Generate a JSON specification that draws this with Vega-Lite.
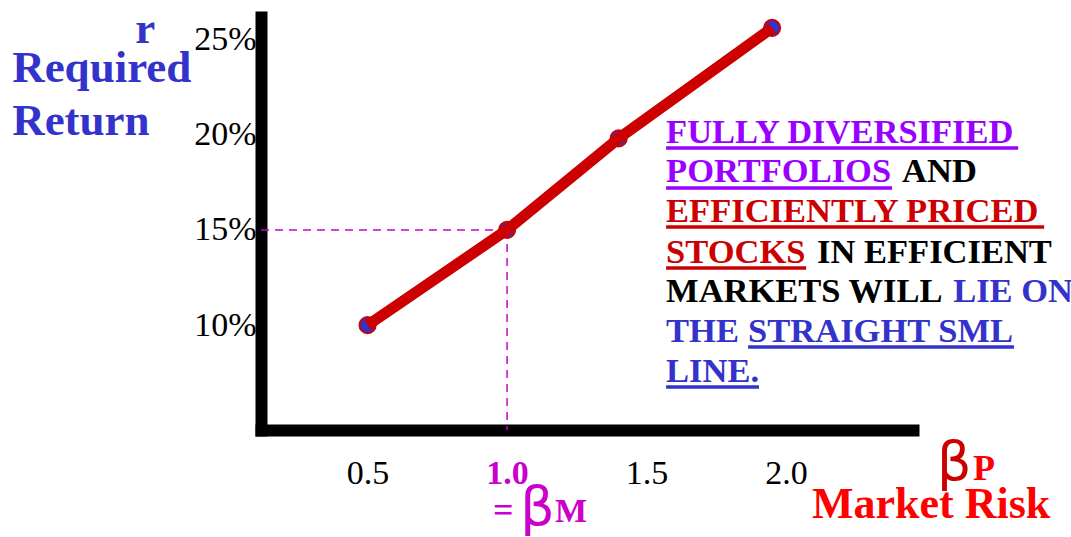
{
  "$schema": "https://vega.github.io/schema/vega-lite/v6.json",
  "autosize": {"type": "none"},
  "padding": {"left": 261, "top": 17, "right": 158, "bottom": 107},
  "width": 652,
  "height": 413,
  "background": "white",
  "config": {"view": {"stroke": null}, "axis": {"titleOpacity": 0, "grid": false}},
  "datasets": {
    "sml": [
      {"beta": 0.5, "ret": 10},
      {"beta": 1.0, "ret": 15},
      {"beta": 1.4, "ret": 19.8},
      {"beta": 1.95, "ret": 25.6}
    ]
  },
  "layer": [
    {
      "data": {"name": "sml"},
      "mark": {"type": "point", "opacity": 0},
      "encoding": {
        "x": {
          "field": "beta", "type": "quantitative", "title": null,
          "scale": {"domain": [0.118, 2.455], "nice": false, "zero": false},
          "axis": {
            "values": [0.5, 1, 1.5, 2], "format": ".1f", "grid": false,
            "ticks": false, "tickSize": 0, "labelPadding": 53, "labelBaseline": "alphabetic",
            "labelFont": "Liberation Serif", "labelFontSize": 34,
            "labelColor": {"condition": {"test": "datum.value === 1", "value": "#cc00cc"}, "value": "black"},
            "labelFontWeight": {"condition": {"test": "datum.value === 1", "value": "bold"}, "value": "normal"},
            "domainColor": "black", "domainWidth": 12, "domainCap": "square"
          }
        },
        "y": {
          "field": "ret", "type": "quantitative", "title": null,
          "scale": {"domain": [4.5, 26.17], "nice": false, "zero": false},
          "axis": {
            "values": [10, 15, 20, 25], "labelExpr": "datum.value + '%'", "grid": false,
            "ticks": false, "tickSize": 0, "labelPadding": 5, "labelAlign": "right", "labelBaseline": "middle",
            "labelFont": "Liberation Serif", "labelFontSize": 34, "labelColor": "black",
            "domainColor": "black", "domainWidth": 12, "domainCap": "square"
          }
        }
      }
    },
    {
      "data": {"values": [{}]},
      "mark": {"type": "rule", "color": "#cc00cc", "strokeWidth": 1.5, "strokeDash": [8, 6]},
      "encoding": {
        "x": {"datum": 0.118},
        "x2": {"datum": 1.0},
        "y": {"datum": 15}
      }
    },
    {
      "data": {"values": [{}]},
      "mark": {"type": "rule", "color": "#cc00cc", "strokeWidth": 1.5, "strokeDash": [8, 6]},
      "encoding": {
        "x": {"datum": 1.0},
        "y": {"datum": 15},
        "y2": {"datum": 4.5}
      }
    },
    {
      "data": {"name": "sml"},
      "mark": {"type": "point", "shape": "circle", "filled": true, "fill": "#3333cc", "stroke": "#cc0000", "strokeWidth": 2, "size": 260, "opacity": 1},
      "encoding": {
        "x": {"field": "beta", "type": "quantitative"},
        "y": {"field": "ret", "type": "quantitative"}
      }
    },
    {
      "data": {"name": "sml"},
      "mark": {"type": "line", "color": "#cc0000", "strokeWidth": 11, "strokeCap": "butt"},
      "encoding": {
        "x": {"field": "beta", "type": "quantitative"},
        "y": {"field": "ret", "type": "quantitative"}
      }
    },
    {
      "data": {"values": [{}]},
      "layer": [
        {"mark": {"type": "rule", "color": "#9900ff", "strokeWidth": 3.5}, "encoding": {"x": {"datum": 1.570}, "x2": {"datum": 2.832}, "y": {"datum": 19.297}}},
        {"mark": {"type": "rule", "color": "#9900ff", "strokeWidth": 3.5}, "encoding": {"x": {"datum": 1.570}, "x2": {"datum": 2.380}, "y": {"datum": 17.198}}},
        {"mark": {"type": "rule", "color": "#cc0000", "strokeWidth": 3.5}, "encoding": {"x": {"datum": 1.570}, "x2": {"datum": 2.925}, "y": {"datum": 15.152}}},
        {"mark": {"type": "rule", "color": "#cc0000", "strokeWidth": 3.5}, "encoding": {"x": {"datum": 1.570}, "x2": {"datum": 2.072}, "y": {"datum": 13.001}}},
        {"mark": {"type": "rule", "color": "#3333cc", "strokeWidth": 3.5}, "encoding": {"x": {"datum": 1.864}, "x2": {"datum": 2.817}, "y": {"datum": 8.855}}},
        {"mark": {"type": "rule", "color": "#3333cc", "strokeWidth": 3.5}, "encoding": {"x": {"datum": 1.570}, "x2": {"datum": 1.903}, "y": {"datum": 6.756}}},

        {"mark": {"type": "text", "text": "FULLY DIVERSIFIED", "align": "left", "baseline": "alphabetic", "font": "Liberation Serif", "fontWeight": "bold", "fontSize": 34.5, "color": "#9900ff"}, "encoding": {"x": {"datum": 1.570}, "y": {"datum": 19.559}}},
        {"mark": {"type": "text", "text": "PORTFOLIOS", "align": "left", "baseline": "alphabetic", "font": "Liberation Serif", "fontWeight": "bold", "fontSize": 34.5, "color": "#9900ff"}, "encoding": {"x": {"datum": 1.570}, "y": {"datum": 17.513}}},
        {"mark": {"type": "text", "text": "AND", "align": "left", "baseline": "alphabetic", "font": "Liberation Serif", "fontWeight": "bold", "fontSize": 34.5, "color": "black"}, "encoding": {"x": {"datum": 2.416}, "y": {"datum": 17.513}}},
        {"mark": {"type": "text", "text": "EFFICIENTLY PRICED", "align": "left", "baseline": "alphabetic", "font": "Liberation Serif", "fontWeight": "bold", "fontSize": 34.5, "color": "#cc0000"}, "encoding": {"x": {"datum": 1.570}, "y": {"datum": 15.414}}},
        {"mark": {"type": "text", "text": "STOCKS", "align": "left", "baseline": "alphabetic", "font": "Liberation Serif", "fontWeight": "bold", "fontSize": 34.5, "color": "#cc0000"}, "encoding": {"x": {"datum": 1.570}, "y": {"datum": 13.263}}},
        {"mark": {"type": "text", "text": "IN EFFICIENT", "align": "left", "baseline": "alphabetic", "font": "Liberation Serif", "fontWeight": "bold", "fontSize": 34.5, "color": "black"}, "encoding": {"x": {"datum": 2.111}, "y": {"datum": 13.263}}},
        {"mark": {"type": "text", "text": "MARKETS WILL", "align": "left", "baseline": "alphabetic", "font": "Liberation Serif", "fontWeight": "bold", "fontSize": 34.5, "color": "black"}, "encoding": {"x": {"datum": 1.570}, "y": {"datum": 11.217}}},
        {"mark": {"type": "text", "text": "LIE ON", "align": "left", "baseline": "alphabetic", "font": "Liberation Serif", "fontWeight": "bold", "fontSize": 34.5, "color": "#3333cc"}, "encoding": {"x": {"datum": 2.599}, "y": {"datum": 11.217}}},
        {"mark": {"type": "text", "text": "THE", "align": "left", "baseline": "alphabetic", "font": "Liberation Serif", "fontWeight": "bold", "fontSize": 34.5, "color": "#3333cc"}, "encoding": {"x": {"datum": 1.570}, "y": {"datum": 9.118}}},
        {"mark": {"type": "text", "text": "STRAIGHT SML", "align": "left", "baseline": "alphabetic", "font": "Liberation Serif", "fontWeight": "bold", "fontSize": 34.5, "color": "#3333cc"}, "encoding": {"x": {"datum": 1.864}, "y": {"datum": 9.118}}},
        {"mark": {"type": "text", "text": "LINE.", "align": "left", "baseline": "alphabetic", "font": "Liberation Serif", "fontWeight": "bold", "fontSize": 34.5, "color": "#3333cc"}, "encoding": {"x": {"datum": 1.570}, "y": {"datum": 7.019}}},

        {"mark": {"type": "text", "text": "r", "align": "left", "baseline": "alphabetic", "font": "Liberation Serif", "fontWeight": "bold", "fontSize": 45, "color": "#3333cc"}, "encoding": {"x": {"datum": -0.333}, "y": {"datum": 24.806}}},
        {"mark": {"type": "text", "text": "Required", "align": "left", "baseline": "alphabetic", "font": "Liberation Serif", "fontWeight": "bold", "fontSize": 45, "color": "#3333cc"}, "encoding": {"x": {"datum": -0.774}, "y": {"datum": 22.760}}},
        {"mark": {"type": "text", "text": "Return", "align": "left", "baseline": "alphabetic", "font": "Liberation Serif", "fontWeight": "bold", "fontSize": 45, "color": "#3333cc"}, "encoding": {"x": {"datum": -0.774}, "y": {"datum": 19.979}}},

        {"mark": {"type": "text", "text": "=", "align": "left", "baseline": "alphabetic", "font": "Liberation Serif", "fontWeight": "bold", "fontSize": 36, "color": "#cc00cc"}, "encoding": {"x": {"datum": 0.950}, "y": {"datum": -0.325}}},
        {"mark": {"type": "text", "text": "β", "align": "left", "baseline": "alphabetic", "font": "DejaVu Sans", "fontSize": 54, "color": "#cc00cc"}, "encoding": {"x": {"datum": 1.047}, "y": {"datum": -0.483}}},
        {"mark": {"type": "text", "text": "M", "align": "left", "baseline": "alphabetic", "font": "Liberation Serif", "fontWeight": "bold", "fontSize": 34, "color": "#cc00cc"}, "encoding": {"x": {"datum": 1.172}, "y": {"datum": -0.325}}},

        {"mark": {"type": "text", "text": "Market Risk", "align": "left", "baseline": "alphabetic", "font": "Liberation Serif", "fontWeight": "bold", "fontSize": 44, "color": "#ff0000"}, "encoding": {"x": {"datum": 2.093}, "y": {"datum": -0.115}}},
        {"mark": {"type": "text", "text": "β", "align": "left", "baseline": "alphabetic", "font": "DejaVu Sans", "fontSize": 54, "color": "#cc0000"}, "encoding": {"x": {"datum": 2.541}, "y": {"datum": 1.878}}},
        {"mark": {"type": "text", "text": "P", "align": "left", "baseline": "alphabetic", "font": "Liberation Serif", "fontWeight": "bold", "fontSize": 36, "color": "#ff0000"}, "encoding": {"x": {"datum": 2.670}, "y": {"datum": 1.878}}}
      ]
    }
  ]
}
